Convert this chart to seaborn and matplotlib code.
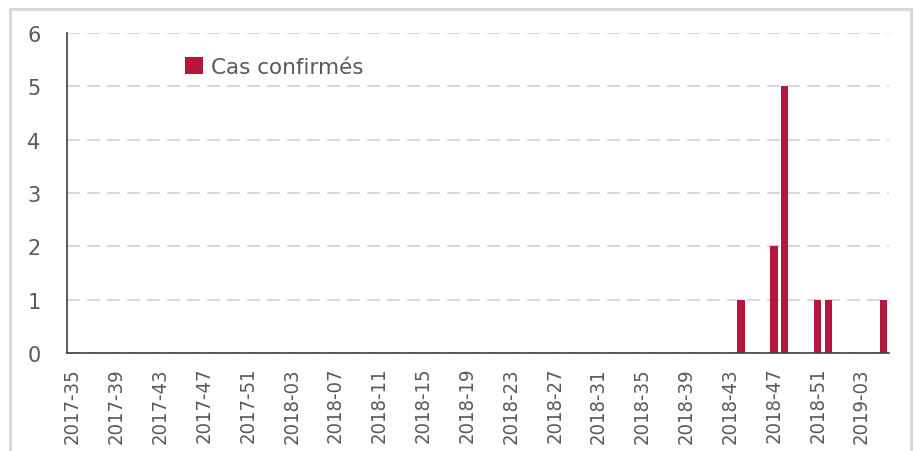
import numpy as np
import pandas as pd
import matplotlib
matplotlib.use("Agg")
import matplotlib.pyplot as plt
from matplotlib.patches import Rectangle
import seaborn as sns

# Weekly categories on the axis: 2017-35 .. 2019-05
weeks = ([f"2017-{w:02d}" for w in range(35, 53)]
         + [f"2018-{w:02d}" for w in range(1, 53)]
         + [f"2019-{w:02d}" for w in range(1, 6)])

# Weeks with confirmed cases (all other weeks are 0)
case_weeks = ["2018-44", "2018-47", "2018-48", "2018-51", "2018-52", "2019-05"]
case_counts = [1, 2, 5, 1, 1, 1]

df = pd.DataFrame({"semaine": weeks, "cas": 0})
df.loc[df["semaine"].isin(case_weeks), "cas"] = case_counts

bar_color = "#B3173B"
text_color = "#595959"
axis_color = "#404040"

sns.set_style("white")
plt.rcParams["font.family"] = ["DejaVu Sans"]

fig = plt.figure(figsize=(9.15, 4.52), dpi=100)
ax = fig.add_axes([67 / 915, 98 / 452, 822 / 915, 320 / 452])

sns.barplot(data=df, x="semaine", y="cas", color=bar_color, saturation=1,
            width=0.66, linewidth=0, edgecolor=bar_color,
            label="Cas confirmés", ax=ax)

ax.set_xlim(-0.5, len(weeks) - 0.5)
ax.set_ylim(0, 6)
ax.set_yticks(range(7))
ax.set_xlabel("")
ax.set_ylabel("")

# dashed horizontal gridlines
ax.set_axisbelow(True)
ax.yaxis.grid(True, color="#D9D9D9", linestyle=(0, (6.2, 3.4)), linewidth=1.5)
ax.xaxis.grid(False)

for s in ["top", "right"]:
    ax.spines[s].set_visible(False)
for s in ["left", "bottom"]:
    ax.spines[s].set_color(axis_color)
    ax.spines[s].set_linewidth(1.2)

# labels every 4 weeks, tick marks every 3 weeks
ax.set_xticks(range(0, len(weeks), 4))
ax.set_xticklabels(weeks[::4], rotation=90)
ax.set_xticks(np.arange(-0.5, len(weeks), 3), minor=True)
ax.tick_params(axis="x", which="major", length=0, pad=10,
               labelsize=14.5, labelcolor=text_color)
ax.tick_params(axis="x", which="minor", length=5, width=1.2, color=axis_color)
ax.tick_params(axis="y", length=0, pad=19, labelsize=15, labelcolor=text_color)
for t in ax.get_xticklabels():
    t.set_fontstretch("condensed")

leg = ax.legend(loc="center left", bbox_to_anchor=(0.143, 0.895), frameon=False,
                fontsize=15.5, handlelength=0.85, handleheight=0.85,
                handletextpad=0.4, borderaxespad=0, borderpad=0)
for t in leg.get_texts():
    t.set_color(text_color)

# light grey chart frame (runs off the bottom like the source)
fig.patches.append(Rectangle((10 / 915, -0.1), 901 / 915, 1 - 10 / 452 + 0.1,
                             transform=fig.transFigure, fill=False,
                             edgecolor="#D9D9D9", linewidth=2.2))

fig.savefig("out.png", dpi=100)
